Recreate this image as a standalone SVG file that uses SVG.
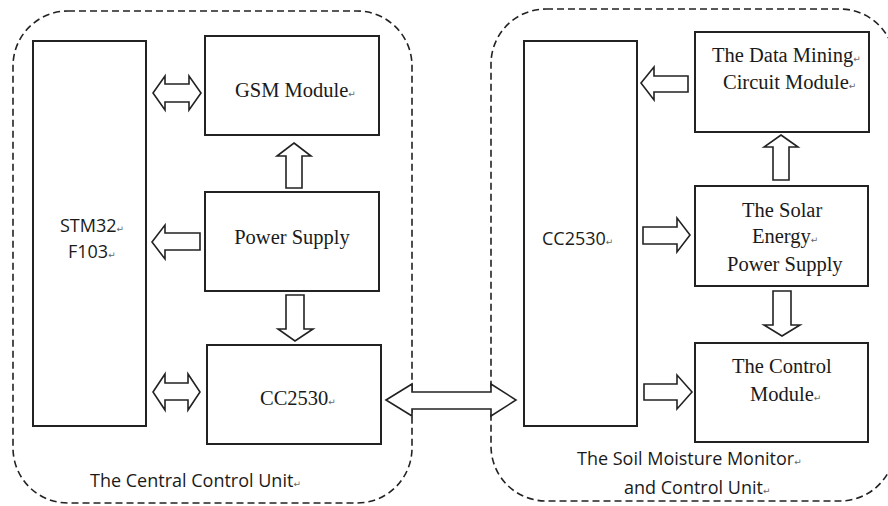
<svg xmlns="http://www.w3.org/2000/svg" width="888" height="506" viewBox="0 0 888 506">
<style>
.unit{fill:none;stroke:#222;stroke-width:1.6;stroke-dasharray:7 4}
.box{fill:#fff;stroke:#222;stroke-width:2}
.arr{fill:#fff;stroke:#222;stroke-width:1.6;stroke-linejoin:miter}
.serif{font-family:"Liberation Serif","Times New Roman",serif;font-size:20.5px;fill:#1a1a1a}
.sans{font-family:"Open Sans","Liberation Sans",sans-serif;font-size:18px;fill:#1a1a1a}
.ret{font-family:"DejaVu Sans",sans-serif;font-size:9px;fill:#666}
</style>
<rect width="888" height="506" fill="#fff"/>
<g id="central-unit">
<rect class="unit" x="13" y="11" width="399" height="492" rx="55" ry="55"/>
<text class="sans" x="90" y="487">The Central Control Unit<tspan class="ret">↵</tspan></text>
</g>
<g id="soil-unit">
<rect class="unit" x="491" y="9" width="404" height="492" rx="55" ry="55"/>
<text class="sans" x="577" y="465">The Soil Moisture Monitor<tspan class="ret">↵</tspan></text>
<text class="sans" x="624" y="494">and Control Unit<tspan class="ret">↵</tspan></text>
</g>
<g id="connectors">
<polygon class="arr" points="153,93 165,76 165,84 189,84 189,76 201,93 189,110 189,102 165,102 165,110"/>
<polygon class="arr" points="152,242 165,225 165,233 200,233 200,250 165,250 165,259"/>
<polygon class="arr" points="294,143 311,156 302,156 302,188 286,188 286,156 277,156"/>
<polygon class="arr" points="286,295 304,295 304,329 313,329 295,341 278,329 286,329"/>
<polygon class="arr" points="153,392 165,374 165,383 188,383 188,374 200,392 188,410 188,400 165,400 165,410"/>
<polygon class="arr" points="386,400 412,384 412,392 491,392 491,384 516,400 491,416 491,409 412,409 412,416"/>
<polygon class="arr" points="641,83 654,67 654,76 688,76 688,92 654,92 654,100"/>
<polygon class="arr" points="781,135 798,147 789,147 789,180 773,180 773,147 764,147"/>
<polygon class="arr" points="643,227 677,227 677,218 690,235 677,252 677,244 643,244"/>
<polygon class="arr" points="773,291 791,291 791,325 800,325 782,336 764,325 773,325"/>
<polygon class="arr" points="644,384 677,384 677,375 692,392 677,409 677,400 644,400"/>
</g>
<g id="stm32">
<rect class="box" x="33" y="41" width="113" height="385"/>
<text class="sans" x="60" y="232">STM32<tspan class="ret">↵</tspan></text>
<text class="sans" x="68" y="258">F103<tspan class="ret">↵</tspan></text>
</g>
<g id="gsm">
<rect class="box" x="205" y="36" width="174" height="99"/>
<text class="serif" x="235" y="97">GSM Module<tspan class="ret">↵</tspan></text>
</g>
<g id="power">
<rect class="box" x="205" y="192" width="174" height="99"/>
<text class="serif" x="292" y="244" text-anchor="middle">Power Supply</text>
</g>
<g id="cc2530-central">
<rect class="box" x="207" y="345" width="174" height="99"/>
<text class="serif" x="260" y="405">CC2530<tspan class="ret">↵</tspan></text>
</g>
<g id="cc2530-soil">
<rect class="box" x="524" y="41" width="113" height="385"/>
<text class="sans" x="542" y="245">CC2530<tspan class="ret">↵</tspan></text>
</g>
<g id="data-mining">
<rect class="box" x="695" y="32" width="174" height="100"/>
<text class="serif" x="712" y="62">The Data Mining<tspan class="ret">↵</tspan></text>
<text class="serif" x="723" y="89">Circuit Module<tspan class="ret">↵</tspan></text>
</g>
<g id="solar">
<rect class="box" x="695" y="186" width="173" height="100"/>
<text class="serif" x="742" y="217">The Solar</text>
<text class="serif" x="752" y="243">Energy<tspan class="ret">↵</tspan></text>
<text class="serif" x="727" y="271">Power Supply</text>
</g>
<g id="control">
<rect class="box" x="695" y="343" width="173" height="99"/>
<text class="serif" x="732" y="373">The Control</text>
<text class="serif" x="750" y="401">Module<tspan class="ret">↵</tspan></text>
</g>
</svg>
